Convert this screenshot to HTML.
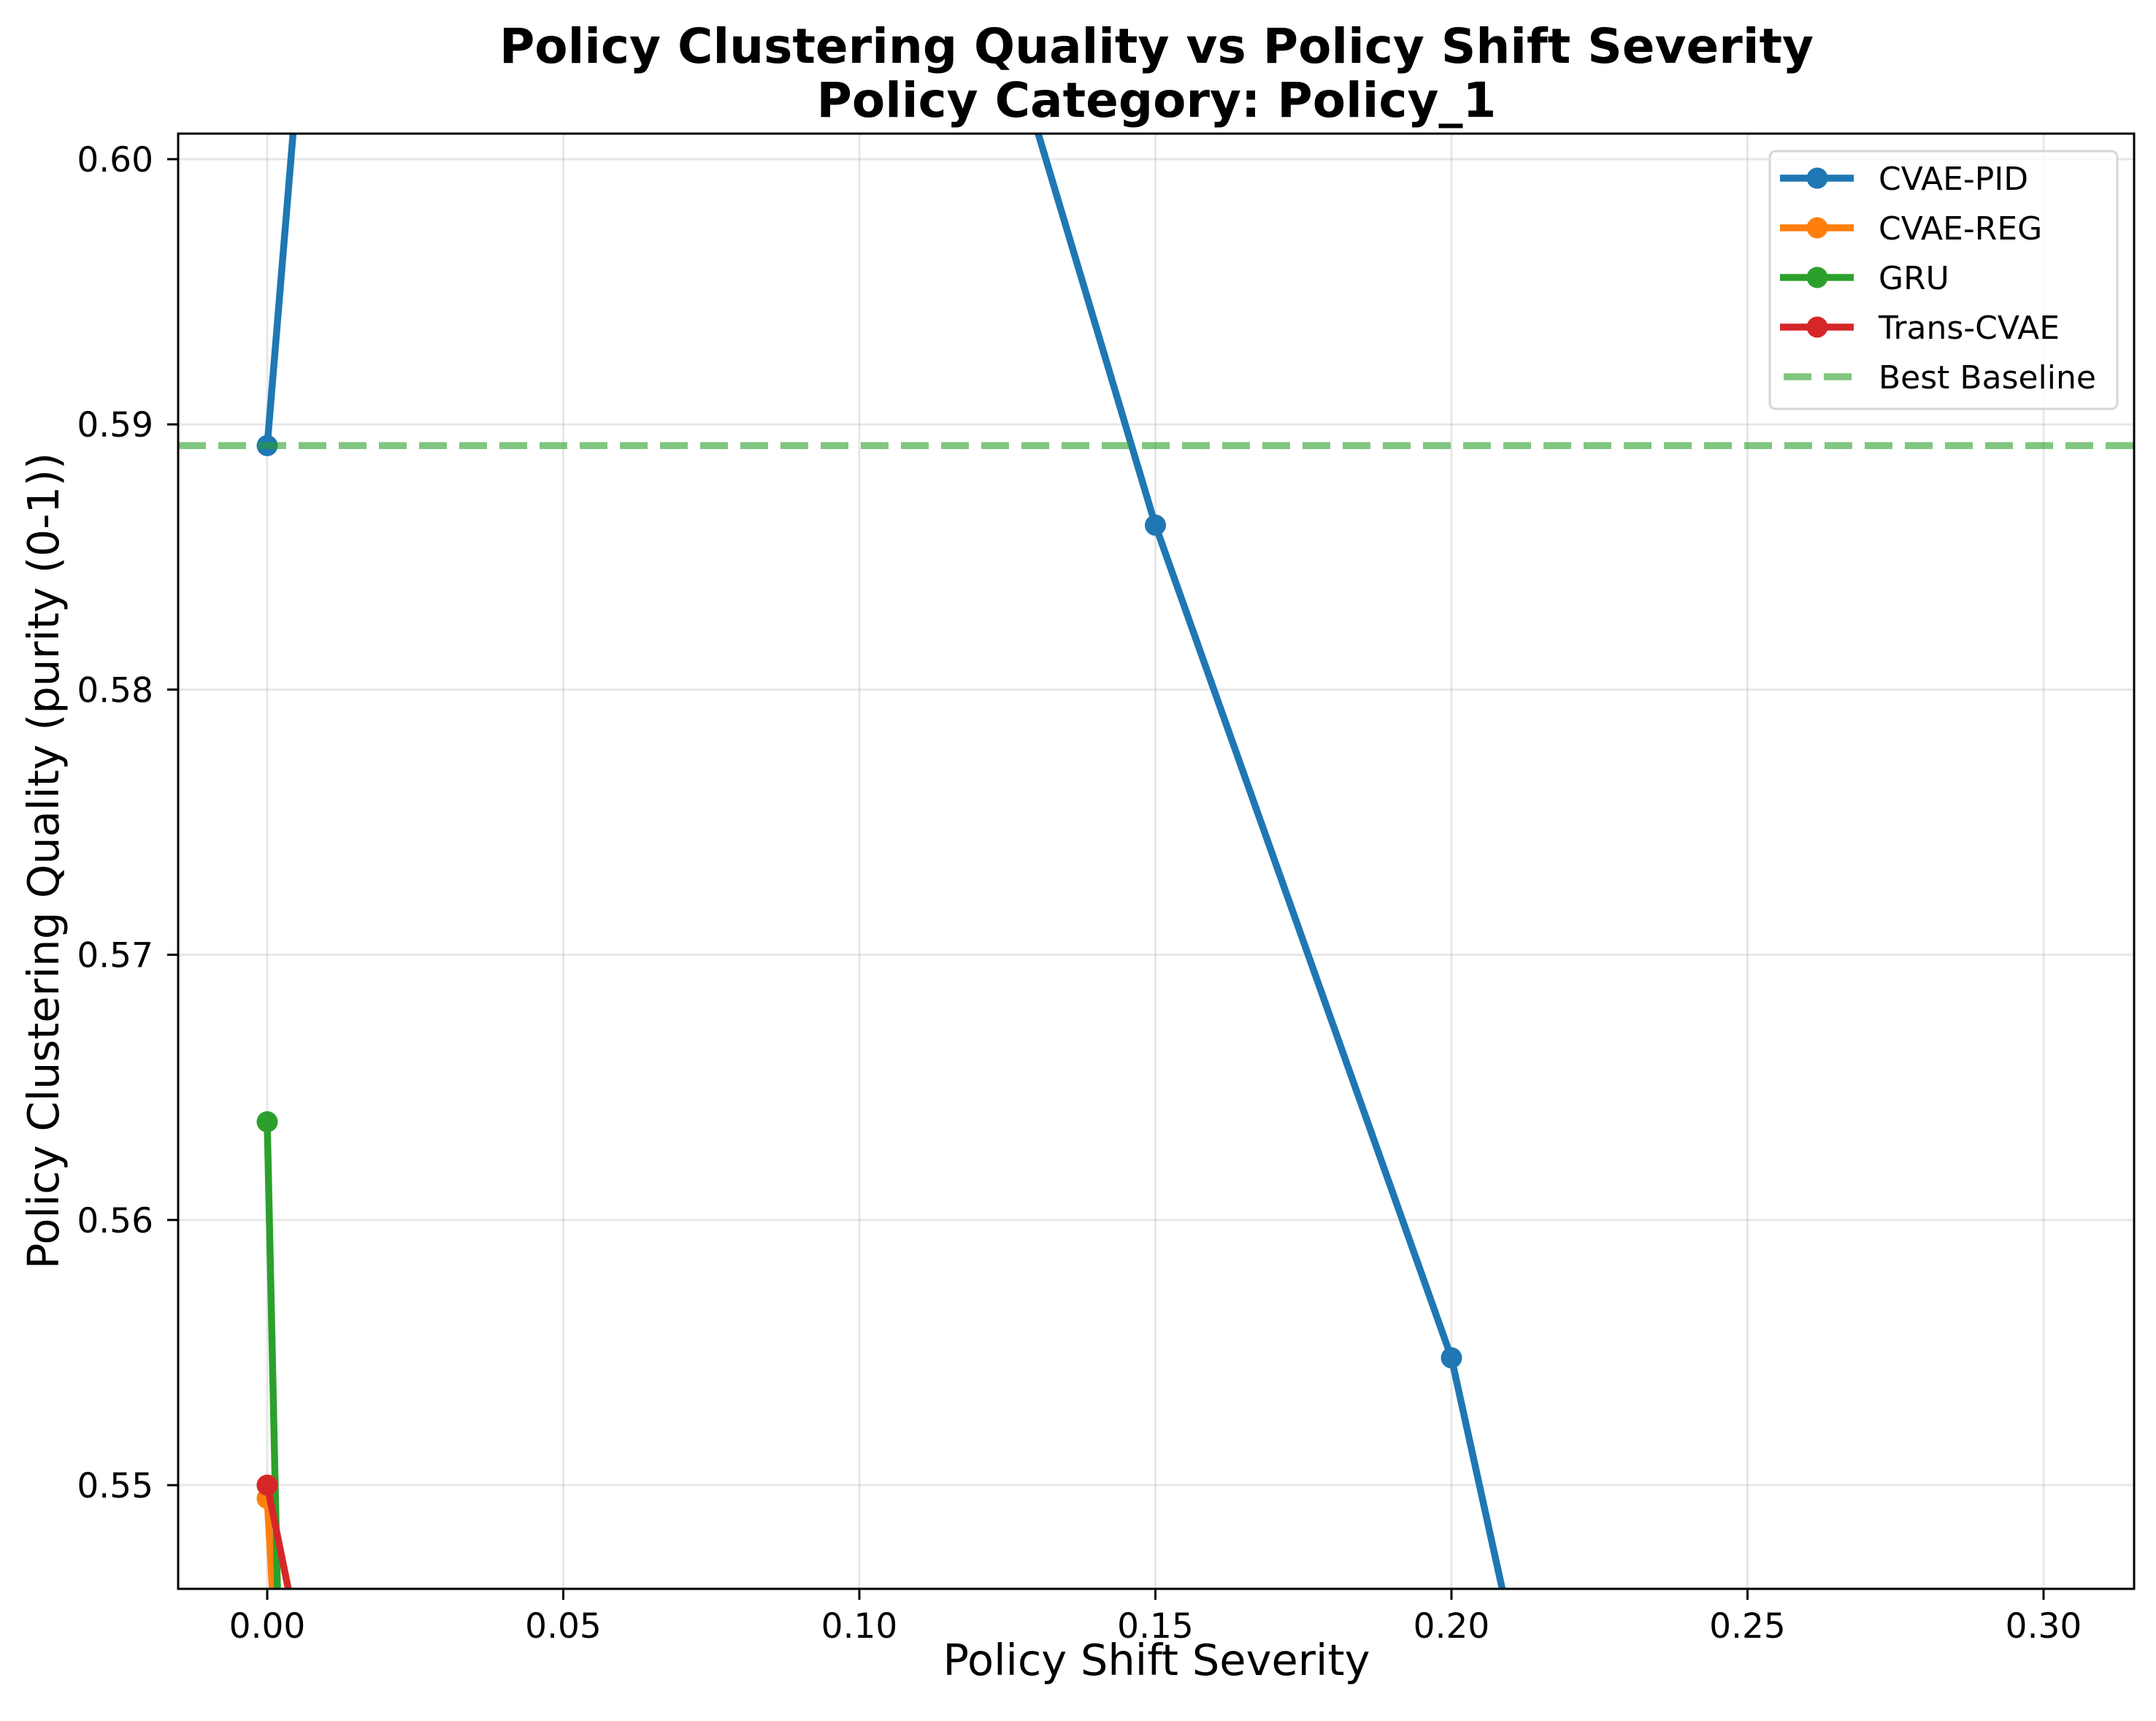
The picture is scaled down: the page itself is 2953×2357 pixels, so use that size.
<!DOCTYPE html>
<html><head><meta charset="utf-8"><style>
html,body{margin:0;padding:0;background:#fff;overflow:hidden;width:2953px;height:2357px;}
svg{display:block;font-family:"DejaVu Sans","Liberation Sans",sans-serif;}
</style></head><body>
<svg id="chart" width="2953" height="2357" xmlns="http://www.w3.org/2000/svg">
<text x="1584" y="86" text-anchor="middle" font-size="66" font-weight="bold">Policy Clustering Quality vs Policy Shift Severity</text>
<text x="1584" y="160" text-anchor="middle" font-size="66" font-weight="bold">Policy Category: Policy_1</text>
<defs><clipPath id="plotclip"><rect x="244" y="183" width="2679" height="1993"/></clipPath></defs>
<g id="grid"></g>
<g id="series" clip-path="url(#plotclip)"></g>
<rect x="244" y="183" width="2679" height="1993" fill="none" stroke="#000" stroke-width="3"/>
<g id="axes"></g>
<text x="1584" y="2294" text-anchor="middle" font-size="59">Policy Shift Severity</text>
<text transform="translate(80,1179) rotate(-90)" text-anchor="middle" font-size="59">Policy Clustering Quality (purity (0-1))</text>
<g id="legend"></g>
</svg>
<script>
const xValues = [0, 0.05, 0.10, 0.15, 0.20, 0.25, 0.30];
const seriesNames = ["CVAE-PID", "CVAE-REG", "GRU", "Trans-CVAE"];
const cvaePid = [0.5892, 0.724, 0.6235, 0.5862, 0.5548, 0.504, 0.48];
const cvaeReg = [0.5495, 0.352, 0.34, 0.33, 0.32, 0.31, 0.30];
const gru = [0.5637, 0.054, 0.05, 0.05, 0.05, 0.05, 0.05];
const transCvae = [0.5500, 0.495, 0.47, 0.45, 0.44, 0.43, 0.42];
const baseline = 0.5892;
const xTicks = [0, 0.05, 0.10, 0.15, 0.20, 0.25, 0.30];
const xTickLabels = ["0.00","0.05","0.10","0.15","0.20","0.25","0.30"];
const yTicks = [0.55, 0.56, 0.57, 0.58, 0.59, 0.60];
const yTickLabels = ["0.55","0.56","0.57","0.58","0.59","0.60"];
const colors = ["#1f77b4","#ff7f0e","#2ca02c","#d62728"];
const allSeries = [cvaePid, cvaeReg, gru, transCvae];

const NS = "http://www.w3.org/2000/svg";
const xs = v => 366 + v * 8110;
const ys = v => 2034 - (v - 0.55) * 36320;
function mk(tag, attrs, parent){const e=document.createElementNS(NS,tag);for(const k in attrs)e.setAttribute(k,attrs[k]);parent.appendChild(e);return e;}
const grid=document.getElementById('grid'), axes=document.getElementById('axes'), ser=document.getElementById('series'), leg=document.getElementById('legend');

xTicks.forEach((t,i)=>{
  const x=xs(t);
  const g=mk('line',{x1:x,x2:x,y1:183,y2:2176,stroke:'#b0b0b0','stroke-opacity':0.3,'stroke-width':3},grid);
  
  
  const tk=mk('line',{x1:x,x2:x,y1:2176,y2:2191,stroke:'#000','stroke-width':3},axes);
  
  
  const tx=mk('text',{x:x,y:2243,'text-anchor':'middle','font-size':47},axes);
  tx.textContent=xTickLabels[i];
  
  
});
yTicks.forEach((t,i)=>{
  const y=ys(t);
  const g=mk('line',{x1:244,x2:2923,y1:y,y2:y,stroke:'#b0b0b0','stroke-opacity':0.3,'stroke-width':3},grid);
  
  
  const tk=mk('line',{x1:229,x2:244,y1:y,y2:y,stroke:'#000','stroke-width':3},axes);
  
  
  const tx=mk('text',{x:210,y:y+17,'text-anchor':'end','font-size':47},axes);
  tx.textContent=yTickLabels[i];
  
  
});

allSeries.forEach((vals,si)=>{
  const pts=vals.map((v,i)=>xs(xValues[i])+','+ys(v)).join(' ');
  const pl=mk('polyline',{points:pts,fill:'none',stroke:colors[si],'stroke-width':9.5,'stroke-linejoin':'round'},ser);
  
  
  vals.forEach((v,i)=>{
    const c=mk('circle',{cx:xs(xValues[i]),cy:ys(v),r:14.5,fill:colors[si]},ser);
    
    
  });
});
const bl=mk('line',{x1:244,x2:2923,y1:ys(baseline),y2:ys(baseline),stroke:'#2ca02c','stroke-opacity':0.6,'stroke-width':9.5,'stroke-dasharray':'38 17'},ser);



const box=mk('rect',{x:2424,y:207,width:476,height:353,rx:8,fill:'#fff','fill-opacity':0.8,stroke:'#d6d6d6','stroke-width':3},leg);


const legNames=seriesNames.concat(["Best Baseline"]);
legNames.forEach((n,i)=>{
  const y=244+i*68;
  const g=mk('g',{},leg);
  
  
  if(i<4){
    mk('line',{x1:2438,x2:2539,y1:y,y2:y,stroke:colors[i],'stroke-width':9.5},g);
    mk('circle',{cx:2489,cy:y,r:14.5,fill:colors[i]},g);
  } else {
    mk('line',{x1:2443,x2:2539,y1:y,y2:y,stroke:'#2ca02c','stroke-opacity':0.6,'stroke-width':9.5,'stroke-dasharray':'38 17'},g);
  }
  const t=mk('text',{x:2573,y:y+16,'font-size':44},g);
  t.textContent=n;
});
</script>
</body></html>
